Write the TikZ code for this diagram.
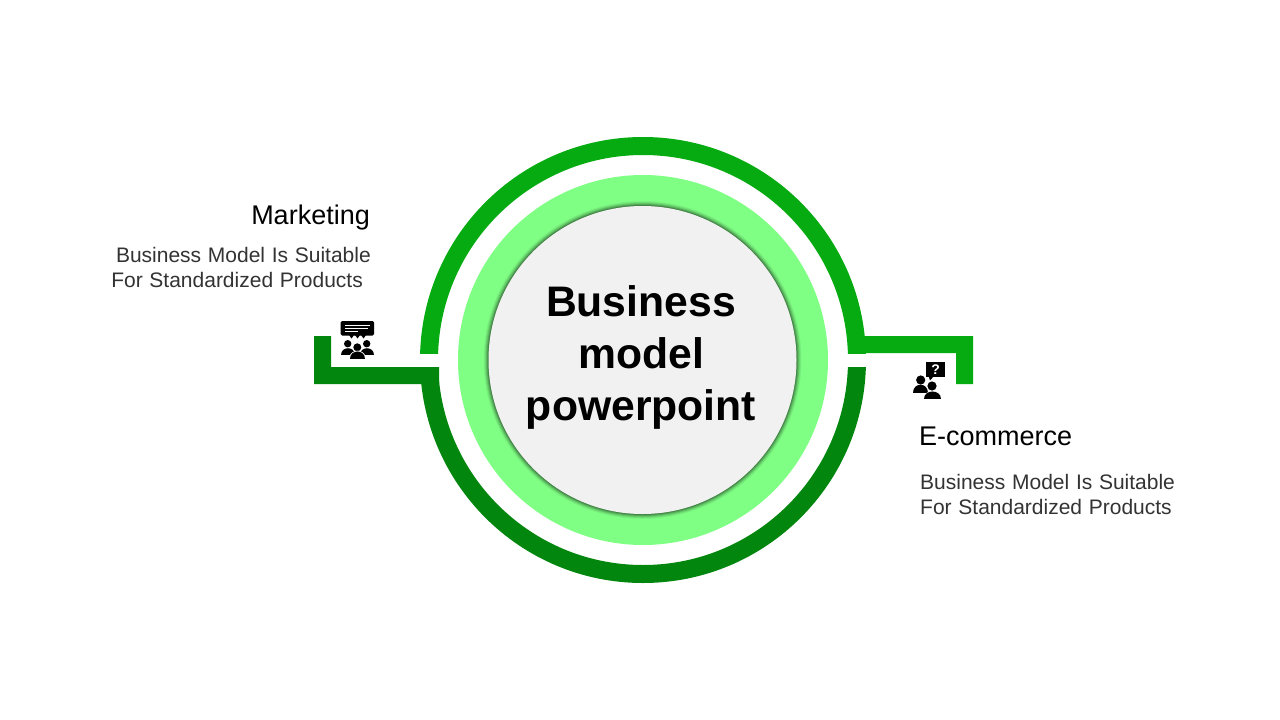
\documentclass[tikz,border=0pt]{standalone}
\usepackage{xcolor}
\usepackage{fontspec}
\setmainfont{Liberation Sans}
\newfontfamily\bodyfont[WordSpace=1.15]{Liberation Sans}
\definecolor{ringtop}{HTML}{05AB10}
\definecolor{ringbot}{HTML}{03860E}
\definecolor{ringlight}{HTML}{80FF85}
\definecolor{discgray}{HTML}{F1F1F1}
\definecolor{bodygray}{HTML}{333333}
\tikzset{
  headtext/.style={inner sep=0pt,text=black,font=\fontsize{27}{32}\selectfont},
  bodytext/.style={inner sep=0pt,text=bodygray,font=\bodyfont\fontsize{21}{25}\selectfont},
  titletext/.style={inner sep=0pt,align=center,text=black,font=\fontsize{42.7}{52}\selectfont\bfseries},
  iconfill/.style={fill=black,draw=none}
}

\begin{document}
\begin{tikzpicture}[x=1pt,y=-1pt]
      \useasboundingbox (0,0) rectangle (1280,720);
      \fill[white] (0,0) rectangle (1280,720);

      % outer ring, upper half
      \begin{scope}
        \clip (0,0) rectangle (1280,353);
        \fill[ringtop,even odd rule] (643,360) circle (223) (643,360) circle (205);
      \end{scope}
      \fill[ringtop] (848,336)--(973,336)--(973,384)--(956,384)--(956,353)--(848,353)--cycle;

      % outer ring, lower half
      \begin{scope}
        \clip (0,367) rectangle (1280,720);
        \fill[ringbot,even odd rule] (643,360) circle (223) (643,360) circle (205);
      \end{scope}
      \fill[ringbot] (314,336)--(331,336)--(331,367)--(439,367)--(439,384)--(314,384)--cycle;

      \fill[ringlight] (643,360) circle (185);

      % soft edge round the disc
      \foreach \r/\o in {159/0.05,158/0.08,157/0.11,156/0.15,155/0.2}
        \fill[black,opacity=\o] (642.5,360) circle (\r);
      \fill[discgray] (642.5,360) circle (154);

      \node[titletext] (title) at (641,357) {Business\\model\\powerpoint};

      % left block
      \node[headtext,anchor=east] (market) at (370,218) {Marketing};
      \node[bodytext,anchor=east] (marketa) at (371,255) {Business Model Is Suitable};
      \node[bodytext,anchor=east] (marketb) at (363,280) {For Standardized Products};

      % right block
      \node[headtext,anchor=west] (ecomm) at (919,436) {E-commerce};
      \node[bodytext,anchor=west] (ecomma) at (920,482) {Business Model Is Suitable};
      \node[bodytext,anchor=west] (ecommb) at (920,507) {For Standardized Products};

      % meeting icon
      \fill[iconfill,rounded corners=1.5] (340.7,321) rectangle (374,335.7);
      \fill[iconfill] (349,335)--(351.5,338.5)--(354,335)--cycle;
      \fill[iconfill] (355,335)--(357.5,338.5)--(360,335)--cycle;
      \fill[iconfill] (361,335)--(363.5,338.5)--(366,335)--cycle;
      \draw[white,line width=0.8] (345,325.5)--(370,325.5) (345,328.5)--(368,328.5) (345,331)--(358,331);
      \fill[iconfill] (347.7,343.7) circle (3.7) (366.7,343.7) circle (3.7);
      \fill[iconfill] (340.7,355.3) .. controls (340.7,346) and (354.7,346) .. (354.7,355.3) -- cycle;
      \fill[iconfill] (359.7,355.3) .. controls (359.7,346) and (374,346) .. (374,355.3) -- cycle;
      \fill[white] (357.3,347.3) circle (5);
      \fill[iconfill] (357.3,347.3) circle (4);
      \fill[white] (348.7,359) .. controls (348.7,348) and (366,348) .. (366,359) -- cycle;
      \fill[iconfill] (350,358.7) .. controls (350,349) and (364.7,349) .. (364.7,358.7) -- cycle;

      % question icon
      \fill[iconfill] (926,362.3) rectangle (945.3,376.7);
      \fill[iconfill] (928.5,376)--(930,380.5)--(934,376)--cycle;
      \node[inner sep=0pt,text=white,font=\fontsize{14}{14}\selectfont\bfseries] (qmark) at (935.7,369.5) {?};
      \fill[iconfill] (920.7,380) circle (4.6);
      \fill[iconfill] (912.7,392.7) .. controls (912.7,382) and (928,382) .. (928,392.7) -- cycle;
      \fill[white] (932,386) circle (5.6);
      \fill[iconfill] (932,386) circle (4.6);
      \fill[white] (922.7,400.3) .. controls (922.7,388) and (942,388) .. (942,400.3) -- cycle;
      \fill[iconfill] (924,399.3) .. controls (924,389) and (940.7,389) .. (940.7,399.3) -- cycle;
\end{tikzpicture}
\end{document}
